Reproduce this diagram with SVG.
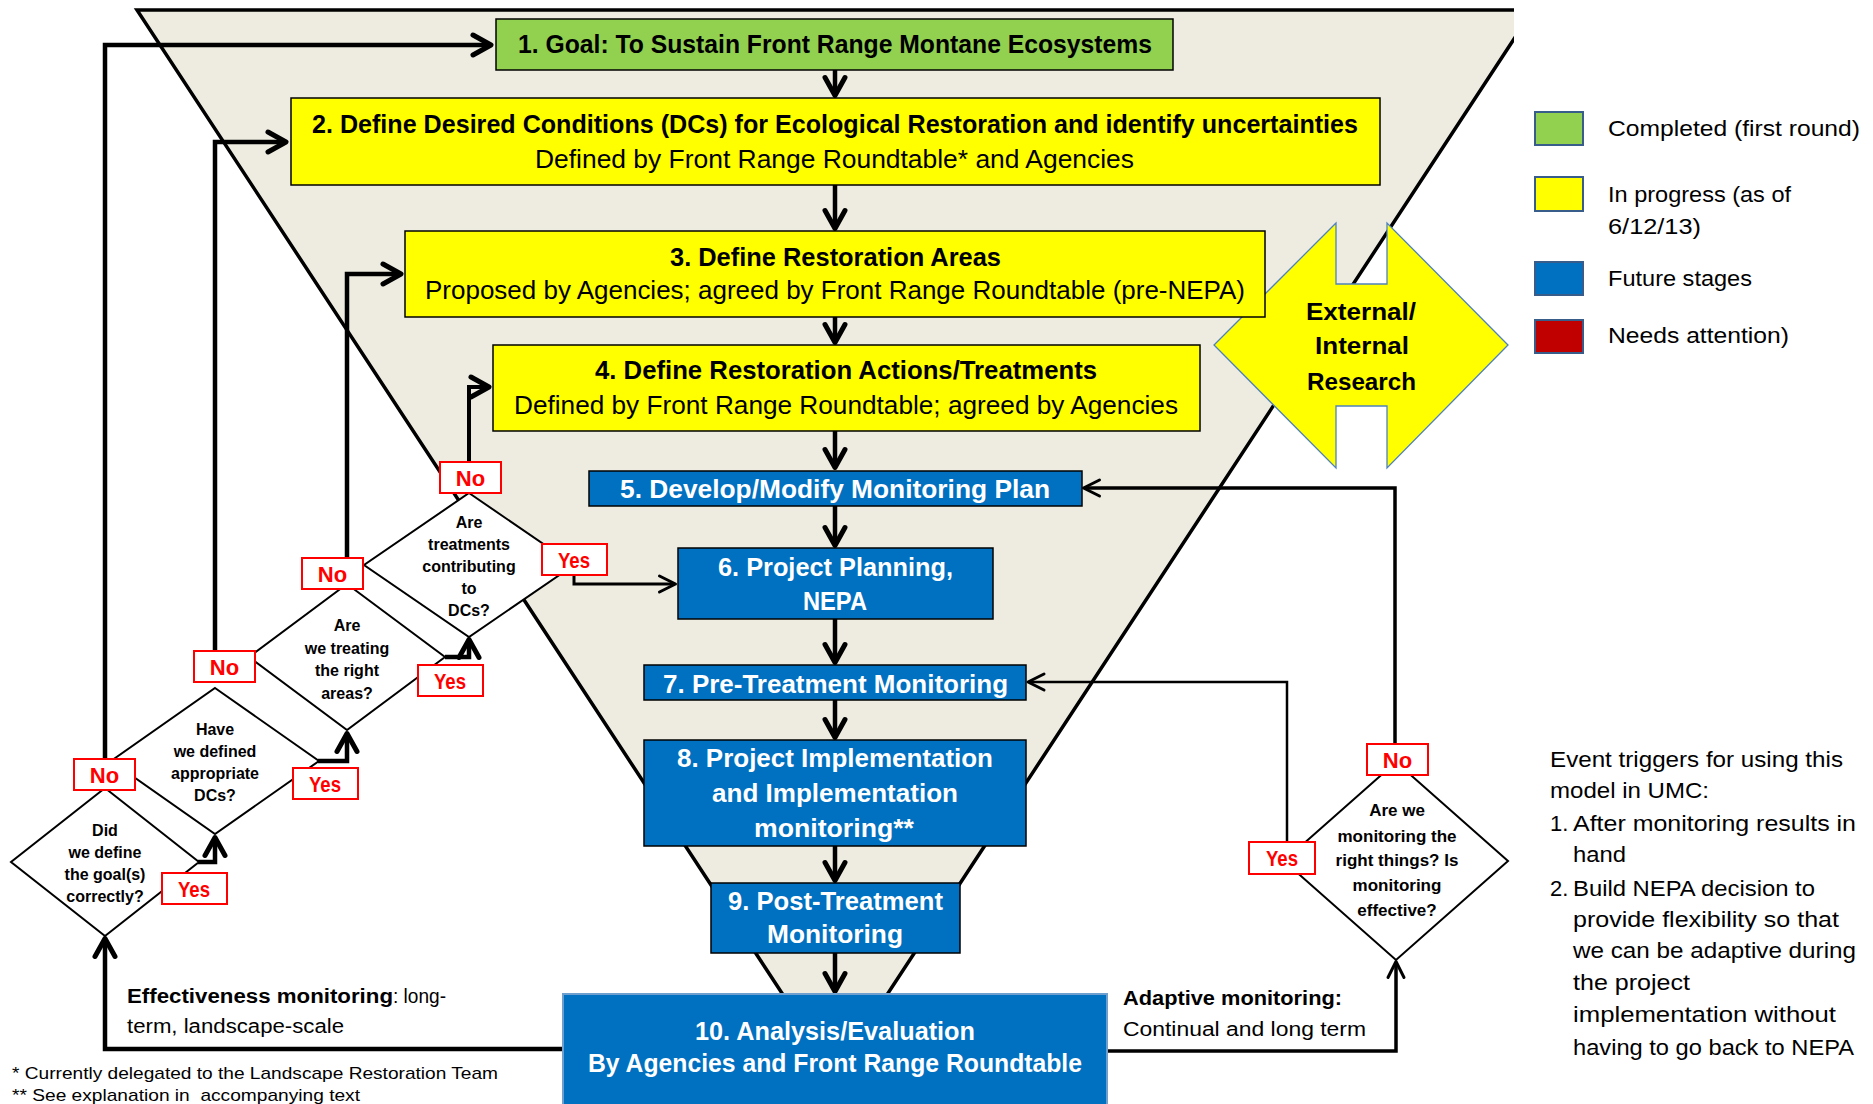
<svg xmlns="http://www.w3.org/2000/svg" width="1873" height="1104" viewBox="0 0 1873 1104">
<style>
text{font-family:"Liberation Sans",Arial,sans-serif;fill:#000}
.b{font-weight:bold}
.w{fill:#fff}
.f25{font-size:25px}
.f22{font-size:22px}
.f21{font-size:20px}
.f17{font-size:17px}
.f16{font-size:16px}
.f18{font-size:17px}
.box{stroke:#000;stroke-width:1.5}
.gr{fill:#92D050}
.ye{fill:#FFFF00}
.bl{fill:#0070C0}
.dia{fill:#fff;stroke:#000;stroke-width:2}
.lab{fill:#fff;stroke:#FF0000;stroke-width:2}
.lt{fill:#FF0000;font-weight:bold;font-size:22px}
.c{fill:none;stroke:#000;stroke-linejoin:miter}
.k{stroke-width:4.5;marker-end:url(#ah)}
.s{marker-end:url(#ahs)}
.leg{stroke:#385D8A;stroke-width:2}
.dt{font-weight:bold;font-size:16px;text-anchor:middle}
.rt{font-weight:bold;font-size:17px;text-anchor:middle}
</style>
<defs>
<clipPath id="clipF"><rect x="0" y="0" width="1514" height="1104"/></clipPath>
<marker id="ah" markerUnits="userSpaceOnUse" orient="auto" viewBox="-25 -25 50 50" markerWidth="50" markerHeight="50" refX="0" refY="0" overflow="visible">
<path d="M-15,-10 L3,0 L-15,10" fill="none" stroke="#000" stroke-width="5" stroke-linejoin="round" stroke-linecap="round"/>
</marker>
<marker id="ahs" markerUnits="userSpaceOnUse" orient="auto" viewBox="-25 -25 50 50" markerWidth="50" markerHeight="50" refX="0" refY="0" overflow="visible">
<path d="M-14,-8 L2,0 L-14,8" fill="none" stroke="#000" stroke-width="3" stroke-linejoin="round" stroke-linecap="round"/>
</marker>
</defs>
<rect x="0" y="0" width="1873" height="1104" fill="#fff"/>

<g id="funnel" clip-path="url(#clipF)">
<polygon points="137,10 1533,10 835,1074" fill="#EEECE1"/>
<polyline points="835,1074 137,10 1533,10 835,1074" fill="none" stroke="#000" stroke-width="3.5"/>
</g>

<g id="research">
<polygon points="1336,223 1214,345 1336,468 1336,406 1387,406 1387,468 1508,345 1387,223 1387,284 1336,284" fill="#FFFF00" stroke="#4F81BD" stroke-width="1.3"/>
<text class="b" font-size="24" x="1306" y="320" textLength="110" lengthAdjust="spacingAndGlyphs">External/</text>
<text class="b" font-size="24" x="1315" y="354" textLength="94" lengthAdjust="spacingAndGlyphs">Internal</text>
<text class="b" font-size="24" x="1307" y="390" textLength="109" lengthAdjust="spacingAndGlyphs">Research</text>
</g>

<g id="connectors">
<path class="c k" d="M835,70 V92.5"/>
<path class="c k" d="M835,185 V225.5"/>
<path class="c k" d="M835,317 V339.5"/>
<path class="c k" d="M835,431 V464.5"/>
<path class="c k" d="M835,506 V542.5"/>
<path class="c k" d="M835,619 V659.5"/>
<path class="c k" d="M835,700 V734.5"/>
<path class="c k" d="M835,846 V877.5"/>
<path class="c k" d="M835,953 V988.5"/>
<path class="c k" d="M105,759 V45 H488"/>
<path class="c k" d="M215,651 V142 H283"/>
<path class="c k" d="M347,558 V274 H398"/>
<path class="c k" d="M469,462 V387 H486" style="stroke-width:4"/>
<path class="c k" d="M198,862 H215 V840.5"/>
<path class="c k" d="M318,761 H347 V736.5"/>
<path class="c k" d="M445,657 H469 V642.5"/>
<path class="c k" d="M563,1049 H105 V941.5"/>
<path class="c s" d="M574,575 V584 H673.5" style="stroke-width:3"/>
<path class="c s" d="M1395,744 V488 H1085.5" style="stroke-width:3.5"/>
<path class="c s" d="M1287,842 V682 H1030" style="stroke-width:2.5"/>
<path class="c s" d="M1107,1051 H1396 V963.5" style="stroke-width:3.5"/>
</g>

<g id="n1">
<rect class="box gr" x="496" y="19" width="677" height="51"/>
<text class="b f25" x="518" y="53" textLength="634" lengthAdjust="spacingAndGlyphs">1. Goal: To Sustain Front Range Montane Ecosystems</text>
</g>
<g id="n2">
<rect class="box ye" x="291" y="98" width="1089" height="87"/>
<text class="b f25" x="312" y="133" textLength="1046" lengthAdjust="spacingAndGlyphs">2. Define Desired Conditions (DCs) for Ecological Restoration and identify uncertainties</text>
<text class="f25" x="535" y="168" textLength="599" lengthAdjust="spacingAndGlyphs">Defined by Front Range Roundtable* and Agencies</text>
</g>
<g id="n3">
<rect class="box ye" x="405" y="231" width="860" height="86"/>
<text class="b f25" x="670" y="266" textLength="331" lengthAdjust="spacingAndGlyphs">3. Define Restoration Areas</text>
<text class="f25" x="425" y="299" textLength="820" lengthAdjust="spacingAndGlyphs">Proposed by Agencies; agreed by Front Range Roundtable (pre-NEPA)</text>
</g>
<g id="n4">
<rect class="box ye" x="493" y="345" width="707" height="86"/>
<text class="b f25" x="595" y="379" textLength="502" lengthAdjust="spacingAndGlyphs">4. Define Restoration Actions/Treatments</text>
<text class="f25" x="514" y="414" textLength="664" lengthAdjust="spacingAndGlyphs">Defined by Front Range Roundtable; agreed by Agencies</text>
</g>
<g id="n5">
<rect class="box bl" x="589" y="471" width="493" height="35"/>
<text class="b f25 w" x="620" y="498" textLength="430" lengthAdjust="spacingAndGlyphs">5. Develop/Modify Monitoring Plan</text>
</g>
<g id="n6">
<rect class="box bl" x="678" y="548" width="315" height="71"/>
<text class="b f25 w" x="718" y="576" textLength="235" lengthAdjust="spacingAndGlyphs">6. Project Planning,</text>
<text class="b f25 w" x="803" y="610" textLength="64" lengthAdjust="spacingAndGlyphs">NEPA</text>
</g>
<g id="n7">
<rect class="box bl" x="644" y="665" width="382" height="35"/>
<text class="b f25 w" x="663" y="693" textLength="345" lengthAdjust="spacingAndGlyphs">7. Pre-Treatment Monitoring</text>
</g>
<g id="n8">
<rect class="box bl" x="644" y="740" width="382" height="106"/>
<text class="b f25 w" x="677" y="767" textLength="316" lengthAdjust="spacingAndGlyphs">8. Project Implementation</text>
<text class="b f25 w" x="712" y="802" textLength="246" lengthAdjust="spacingAndGlyphs">and Implementation</text>
<text class="b f25 w" x="754" y="837" textLength="160" lengthAdjust="spacingAndGlyphs">monitoring**</text>
</g>
<g id="n9">
<rect class="box bl" x="711" y="883" width="249" height="70"/>
<text class="b f25 w" x="728" y="910" textLength="215" lengthAdjust="spacingAndGlyphs">9. Post-Treatment</text>
<text class="b f25 w" x="767" y="943" textLength="136" lengthAdjust="spacingAndGlyphs">Monitoring</text>
</g>
<g id="n10">
<rect class="bl" x="563" y="994" width="544" height="120" stroke="#6E9FCF" stroke-width="2"/>
<text class="b f25 w" x="695" y="1040" textLength="280" lengthAdjust="spacingAndGlyphs">10. Analysis/Evaluation</text>
<text class="b f25 w" x="588" y="1072" textLength="494" lengthAdjust="spacingAndGlyphs">By Agencies and Front Range Roundtable</text>
</g>

<g id="d4">
<polygon class="dia" points="469,493 574,565 469,637 364,565"/>
<text class="dt" x="469" y="528">Are</text>
<text class="dt" x="469" y="550">treatments</text>
<text class="dt" x="469" y="572">contributing</text>
<text class="dt" x="469" y="594">to</text>
<text class="dt" x="469" y="616">DCs?</text>
</g>
<g id="d3">
<polygon class="dia" points="347,584 445,657 347,730 249,657"/>
<text class="dt" x="347" y="631">Are</text>
<text class="dt" x="347" y="654">we treating</text>
<text class="dt" x="347" y="676">the right</text>
<text class="dt" x="347" y="699">areas?</text>
</g>
<g id="d2">
<polygon class="dia" points="215,688 319,761 215,834 111,761"/>
<text class="dt" x="215" y="735">Have</text>
<text class="dt" x="215" y="757">we defined</text>
<text class="dt" x="215" y="779">appropriate</text>
<text class="dt" x="215" y="801">DCs?</text>
</g>
<g id="d1">
<polygon class="dia" points="105,788 199,862 105,936 11,862"/>
<text class="dt" x="105" y="836">Did</text>
<text class="dt" x="105" y="858">we define</text>
<text class="dt" x="105" y="880">the goal(s)</text>
<text class="dt" x="105" y="902">correctly?</text>
</g>
<g id="d5">
<polygon class="dia" points="1396,762 1508,861 1396,960 1284,861"/>
<text class="rt" x="1397" y="816">Are we</text>
<text class="rt" x="1397" y="842">monitoring the</text>
<text class="rt" x="1397" y="866">right things? Is</text>
<text class="rt" x="1397" y="891">monitoring</text>
<text class="rt" x="1397" y="916">effective?</text>
</g>

<g id="labels">
<rect class="lab" x="440" y="462" width="61" height="31"/><text class="lt" x="470.5" y="486" text-anchor="middle">No</text>
<rect class="lab" x="302" y="558" width="61" height="31"/><text class="lt" x="332.5" y="582" text-anchor="middle">No</text>
<rect class="lab" x="194" y="651" width="61" height="31"/><text class="lt" x="224.5" y="675" text-anchor="middle">No</text>
<rect class="lab" x="74" y="759" width="61" height="31"/><text class="lt" x="104.5" y="783" text-anchor="middle">No</text>
<rect class="lab" x="1367" y="744" width="61" height="31"/><text class="lt" x="1397.5" y="768" text-anchor="middle">No</text>
<rect class="lab" x="542" y="544" width="65" height="31"/><text class="lt" x="558" y="568" textLength="32" lengthAdjust="spacingAndGlyphs">Yes</text>
<rect class="lab" x="418" y="665" width="65" height="31"/><text class="lt" x="434" y="689" textLength="32" lengthAdjust="spacingAndGlyphs">Yes</text>
<rect class="lab" x="293" y="768" width="65" height="31"/><text class="lt" x="309" y="792" textLength="32" lengthAdjust="spacingAndGlyphs">Yes</text>
<rect class="lab" x="162" y="873" width="65" height="31"/><text class="lt" x="178" y="897" textLength="32" lengthAdjust="spacingAndGlyphs">Yes</text>
<rect class="lab" x="1249" y="842" width="66" height="32"/><text class="lt" x="1266" y="866" textLength="32" lengthAdjust="spacingAndGlyphs">Yes</text>
</g>

<g id="legend">
<rect class="leg gr" x="1535" y="112" width="48" height="33"/>
<rect class="leg ye" x="1535" y="177" width="48" height="34"/>
<rect class="leg bl" x="1535" y="262" width="48" height="33"/>
<rect class="leg" fill="#C00000" x="1535" y="320" width="48" height="33"/>
<text class="f22" x="1608" y="136" textLength="252" lengthAdjust="spacingAndGlyphs">Completed (first round)</text>
<text class="f22" x="1608" y="202" textLength="183" lengthAdjust="spacingAndGlyphs">In progress (as of</text>
<text class="f22" x="1608" y="234" textLength="93" lengthAdjust="spacingAndGlyphs">6/12/13)</text>
<text class="f22" x="1608" y="286" textLength="144" lengthAdjust="spacingAndGlyphs">Future stages</text>
<text class="f22" x="1608" y="343" textLength="181" lengthAdjust="spacingAndGlyphs">Needs attention)</text>
</g>

<g id="triggers">
<text class="f22" x="1550" y="767" textLength="293" lengthAdjust="spacingAndGlyphs">Event triggers for using this</text>
<text class="f22" x="1550" y="798" textLength="159" lengthAdjust="spacingAndGlyphs">model in UMC:</text>
<text class="f22" x="1550" y="831">1.</text>
<text class="f22" x="1573" y="831" textLength="283" lengthAdjust="spacingAndGlyphs">After monitoring results in</text>
<text class="f22" x="1573" y="862" textLength="53" lengthAdjust="spacingAndGlyphs">hand</text>
<text class="f22" x="1550" y="896">2.</text>
<text class="f22" x="1573" y="896" textLength="242" lengthAdjust="spacingAndGlyphs">Build NEPA decision to</text>
<text class="f22" x="1573" y="927" textLength="266" lengthAdjust="spacingAndGlyphs">provide flexibility so that</text>
<text class="f22" x="1573" y="958" textLength="283" lengthAdjust="spacingAndGlyphs">we can be adaptive during</text>
<text class="f22" x="1573" y="990" textLength="117" lengthAdjust="spacingAndGlyphs">the project</text>
<text class="f22" x="1573" y="1022" textLength="263" lengthAdjust="spacingAndGlyphs">implementation without</text>
<text class="f22" x="1573" y="1055" textLength="281" lengthAdjust="spacingAndGlyphs">having to go back to NEPA</text>
</g>

<g id="notes">
<text class="b f21" x="127" y="1003" textLength="266" lengthAdjust="spacingAndGlyphs">Effectiveness monitoring</text>
<text class="f21" x="393" y="1003" textLength="53" lengthAdjust="spacingAndGlyphs" xml:space="preserve">: long-</text>
<text class="f21" x="127" y="1033" textLength="217" lengthAdjust="spacingAndGlyphs">term, landscape-scale</text>
<text class="b f21" x="1123" y="1005" textLength="219" lengthAdjust="spacingAndGlyphs">Adaptive monitoring:</text>
<text class="f21" x="1123" y="1036" textLength="243" lengthAdjust="spacingAndGlyphs">Continual and long term</text>
<text class="f18" x="12" y="1079" textLength="486" lengthAdjust="spacingAndGlyphs">* Currently delegated to the Landscape Restoration Team</text>
<text class="f18" x="12" y="1101" textLength="348" lengthAdjust="spacingAndGlyphs" xml:space="preserve">** See explanation in  accompanying text</text>
</g>
</svg>
